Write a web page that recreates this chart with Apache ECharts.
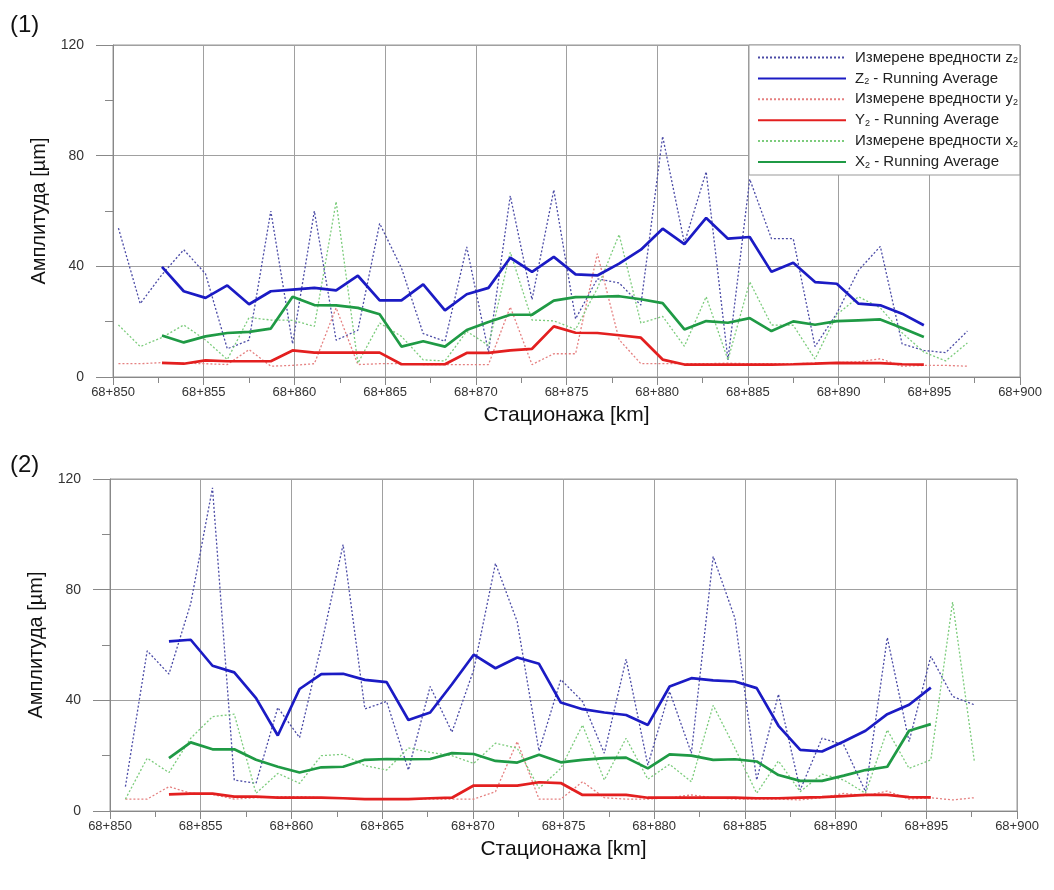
<!DOCTYPE html>
<html>
<head>
<meta charset="utf-8">
<script src="https://cdn.jsdelivr.net/npm/echarts@6/dist/echarts.min.js"></script>
<style>
html,body{margin:0;padding:0;background:#fff;}
#c{width:1054px;height:890px;}
</style>
</head>
<body>
<div id="c"></div>
<script>
// ---- Data (station offsets in m after 68 km, amplitudes in µm) ----
const stations1 = [850.3, 851.5, 852.7, 853.9, 855.1, 856.3, 857.5, 858.7, 859.9, 861.1, 862.3, 863.5, 864.7, 865.9, 867.1, 868.3, 869.5, 870.7, 871.9, 873.1, 874.3, 875.5, 876.7, 877.9, 879.1, 880.3, 881.5, 882.7, 883.9, 885.1, 886.3, 887.5, 888.7, 889.9, 891.1, 892.3, 893.5, 894.7, 895.9, 897.1];
const stations2 = [850.85, 852.05, 853.25, 854.45, 855.65, 856.85, 858.05, 859.25, 860.45, 861.65, 862.85, 864.05, 865.25, 866.45, 867.65, 868.85, 870.05, 871.25, 872.45, 873.65, 874.85, 876.05, 877.25, 878.45, 879.65, 880.85, 882.05, 883.25, 884.45, 885.65, 886.85, 888.05, 889.25, 890.45, 891.65, 892.85, 894.05, 895.25, 896.45, 897.65];

// Panel (1)
const z1 = [53.8, 26.5, 37, 46, 37.3, 10.2, 13.3, 60, 12, 60, 13.3, 16.9, 55.5, 39.4, 15.7, 12.9, 47, 9, 65.5, 28, 67.6, 21, 35.5, 34, 26, 87, 48.4, 74.2, 6.2, 71.5, 50, 50, 11, 23, 38.6, 47.2, 12, 9.6, 8.8, 16.6];
const z1avg = [null, null, 39.8, 31, 28.6, 33.1, 26.3, 31, 31.6, 32.2, 31.3, 36.6, 27.7, 27.7, 33.5, 24.1, 29.9, 32.2, 43.1, 38, 43.4, 37.1, 36.7, 41, 46, 53.6, 48, 57.5, 50, 50.6, 38, 41.3, 34.3, 33.7, 26.5, 25.9, 22.9, 18.7, null, null];
const y1 = [4.8, 4.8, 5.2, 5, 4.8, 4.5, 9.9, 3.9, 4.2, 4.8, 25, 4.5, 4.8, 4.8, 4.5, 4.5, 4.5, 4.5, 25.3, 4.5, 8.4, 8.4, 44.6, 13.5, 4.8, 4.8, 4.8, 4.8, 5, 4.8, 4.8, 4.8, 5, 5.2, 5.5, 6.6, 3.9, 4.2, 4.2, 3.9];
const y1avg = [null, null, 5.1, 4.8, 6, 5.7, 5.7, 5.7, 9.6, 8.8, 8.8, 8.8, 8.8, 4.6, 4.6, 4.6, 8.7, 8.7, 9.6, 10.2, 18.3, 16, 15.9, 15.1, 14.2, 6.3, 4.5, 4.5, 4.5, 4.5, 4.5, 4.6, 4.8, 5.1, 5, 5, 4.6, 4.5, null, null];
const x1 = [18.8, 11, 14.3, 18.8, 13.4, 6.3, 21.5, 20.6, 20.5, 18.3, 63.4, 5, 19.5, 14.7, 6.2, 5.8, 16.5, 11.4, 45.1, 20.6, 20.3, 17.2, 32, 51.5, 19.5, 21.9, 11.1, 29, 6.2, 34.4, 18.8, 18.7, 6.5, 22.5, 29, 25, 16, 9, 5.8, 12.3];
const x1avg = [null, null, 15, 12.5, 14.7, 15.9, 16.3, 17.5, 29, 26, 25.9, 25, 22.7, 11, 12.9, 11, 17, 19.9, 22.5, 22.5, 27.6, 28.9, 29, 29.2, 28.1, 26.7, 17.2, 20.2, 19.6, 21.3, 16.6, 20.1, 18.9, 20.2, 20.5, 20.8, 17.7, 14.5, null, null];

// Panel (2)
const z2 = [8.8, 57.9, 49.5, 75, 116.8, 11.2, 10, 37.4, 26.5, 60, 96.3, 36.9, 39.6, 14.8, 45, 28.5, 51, 89.5, 68.4, 21.7, 47.5, 39.6, 20.9, 54.9, 16.6, 43.2, 20.9, 92, 69.7, 11.2, 42.2, 7.6, 26.3, 23.9, 7, 62.7, 25.1, 55.9, 41.4, 38.4];
const z2avg = [null, null, 61.3, 61.9, 52.5, 50.1, 40.8, 27.3, 44.1, 49.5, 49.6, 47.4, 46.6, 32.9, 35.6, 45.8, 56.5, 51.6, 55.5, 53.2, 39.2, 36.8, 35.6, 34.7, 31.1, 45, 48, 47.2, 46.8, 44.4, 30.8, 22.1, 21.5, 25.1, 29, 35, 38.4, 44.6, null, null];
const y2 = [4.3, 4.3, 8.8, 6.4, 6, 4.3, 4.8, 5.2, 5.2, 4.8, 4.6, 4.3, 4.3, 4.3, 4.3, 4.3, 4.3, 7, 25.1, 4.3, 4.3, 10.6, 4.8, 4.3, 4.3, 4.8, 5.8, 4.8, 4.3, 4.3, 4.3, 4, 4.8, 6.4, 5.5, 7.2, 4.3, 4.8, 4, 4.8];
const y2avg = [null, null, 6, 6.3, 6.3, 5.2, 5.2, 4.8, 4.8, 4.8, 4.6, 4.3, 4.3, 4.3, 4.6, 4.8, 9.2, 9.2, 9.2, 10.4, 10.1, 5.8, 5.8, 5.8, 4.8, 4.8, 4.8, 4.8, 4.8, 4.6, 4.6, 4.8, 5, 5.4, 5.8, 5.8, 5, 4.9, null, null];
const x2 = [4.3, 19.1, 13.9, 26.3, 34.1, 35, 6.4, 13.6, 10, 20, 20.5, 16.4, 14.8, 22.8, 21.2, 20, 17.2, 24.5, 22.7, 8.2, 15.4, 31.1, 11.2, 26.3, 11.5, 16.9, 10.6, 38.2, 22.7, 6.4, 18.1, 7, 13.3, 11.2, 6.4, 29.3, 15.4, 18.5, 75.5, 17.9];
const x2avg = [null, null, 19.1, 24.8, 22.3, 22.3, 18.5, 16, 13.9, 15.8, 16, 18.5, 18.8, 18.7, 18.8, 20.9, 20.6, 18.1, 17.5, 20.3, 17.6, 18.5, 19.1, 19.3, 15.4, 20.5, 20, 18.5, 18.7, 17.9, 13, 10.9, 10.9, 12.8, 14.8, 16, 29, 31.4, null, null];

const seriesNames = ['Измерене вредности z2', 'Z2 - Running Average', 'Измерене вредности y2', 'Y2 - Running Average', 'Измерене вредности x2', 'X2 - Running Average'];
const legendLabels = ['{t|Измерене вредности z}{s|2}', '{t|Z}{s|2}{t| - Running Average}', '{t|Измерене вредности y}{s|2}', '{t|Y}{s|2}{t| - Running Average}', '{t|Измерене вредности x}{s|2}', '{t|X}{s|2}{t| - Running Average}'];
const yTicks = [0, 40, 80, 120];
const xLabelPrefix = '68+';
const panelTitles = ['(1)', '(2)'];
const xName = 'Стационажа [km]';
const yName = 'Амплитуда [µm]';

// ---- Styles ----
const COL = {
  zDot: '#4b4ba6', zAvg: '#1b1bc4',
  yDot: '#e58080', yAvg: '#e31f1f',
  xDot: '#7ccc7c', xAvg: '#1f9a45'
};
const FONT = 'Liberation Sans, Arial, sans-serif';

function mk(name, xs, ys, gi, color, dotted) {
  return {
    name: name, type: 'line', xAxisIndex: gi, yAxisIndex: gi,
    symbol: 'none', showSymbol: false, silent: true,
    data: xs.map((x, i) => [x, ys[i]]).filter(p => p[1] !== null),
    lineStyle: { color: color, width: dotted ? 1.3 : 2.7, type: dotted ? [2, 2] : 'solid' },
    itemStyle: { color: color },
    z: dotted ? 2 : 3
  };
}

const grids = [
  { left: 113, right: 34, top: 45, height: 332 },
  { left: 110, right: 37, top: 479, height: 332 }
];

function xAxis(gi) {
  return {
    type: 'value', gridIndex: gi, min: 850, max: 900, interval: 5,
    name: xName, nameLocation: 'middle', nameGap: 28,
    nameTextStyle: { fontSize: 21, color: '#111', fontFamily: FONT },
    axisLine: { show: true, lineStyle: { color: '#888' } },
    axisTick: { show: true, length: 8, lineStyle: { color: '#888' } },
    minorTick: { show: true, splitNumber: 2, length: 6, lineStyle: { color: '#888' } },
    splitLine: { show: true, lineStyle: { color: '#a0a0a0', width: 1 } },
    axisLabel: { fontSize: 13, color: '#333', fontFamily: FONT, margin: 9,
      formatter: v => xLabelPrefix + v }
  };
}
function yAxis(gi) {
  return {
    type: 'value', gridIndex: gi, min: yTicks[0], max: yTicks[yTicks.length - 1], interval: 40,
    name: yName, nameLocation: 'middle', nameGap: 62, nameRotate: 90,
    nameTextStyle: { fontSize: 20, color: '#111', fontFamily: FONT },
    axisLine: { show: true, lineStyle: { color: '#888' } },
    axisTick: { show: true, length: 17, lineStyle: { color: '#888' } },
    minorTick: { show: true, splitNumber: 2, length: 8, lineStyle: { color: '#888' } },
    splitLine: { show: true, lineStyle: { color: '#a0a0a0', width: 1 } },
    axisLabel: { fontSize: 14, color: '#333', fontFamily: FONT, margin: 29 }
  };
}

const series = [
  mk(seriesNames[0], stations1, z1, 0, COL.zDot, true),
  mk(seriesNames[2], stations1, y1, 0, COL.yDot, true),
  mk(seriesNames[4], stations1, x1, 0, COL.xDot, true),
  mk(seriesNames[1], stations1, z1avg, 0, COL.zAvg, false),
  mk(seriesNames[3], stations1, y1avg, 0, COL.yAvg, false),
  mk(seriesNames[5], stations1, x1avg, 0, COL.xAvg, false),
  mk(seriesNames[0], stations2, z2, 1, COL.zDot, true),
  mk(seriesNames[2], stations2, y2, 1, COL.yDot, true),
  mk(seriesNames[4], stations2, x2, 1, COL.xDot, true),
  mk(seriesNames[1], stations2, z2avg, 1, COL.zAvg, false),
  mk(seriesNames[3], stations2, y2avg, 1, COL.yAvg, false),
  mk(seriesNames[5], stations2, x2avg, 1, COL.xAvg, false)
];

const chart = echarts.init(document.getElementById('c'), null, { renderer: 'canvas' });
chart.setOption({
  animation: false,
  backgroundColor: '#fff',
  textStyle: { fontFamily: FONT },
  title: [
    { text: panelTitles[0], left: 5, top: 8, textStyle: { fontSize: 24, fontWeight: 'normal', color: '#111', fontFamily: FONT } },
    { text: panelTitles[1], left: 5, top: 448, textStyle: { fontSize: 24, fontWeight: 'normal', color: '#111', fontFamily: FONT } }
  ],
  grid: grids.map(g => Object.assign({ show: true, borderColor: '#999', borderWidth: 1, backgroundColor: 'transparent' }, g)),
  xAxis: [xAxis(0), xAxis(1)],
  yAxis: [yAxis(0), yAxis(1)],
  legend: {
    data: seriesNames, orient: 'vertical', left: 749, top: 45,
    itemWidth: 88, itemHeight: 12, itemGap: 5.4,
    padding: [5, 2, 5, 8],
    backgroundColor: '#fff', borderColor: '#999', borderWidth: 1,
    selectedMode: false,
    itemStyle: { opacity: 0 },
    formatter: name => legendLabels[seriesNames.indexOf(name)],
    textStyle: {
      color: '#222', fontFamily: FONT, padding: [0, 0, 0, 4],
      rich: {
        t: { fontSize: 15, lineHeight: 16, color: '#222', fontFamily: FONT },
        s: { fontSize: 9, lineHeight: 9, verticalAlign: 'bottom', color: '#222', fontFamily: FONT }
      }
    }
  },
  series: series
});
</script>
</body>
</html>
